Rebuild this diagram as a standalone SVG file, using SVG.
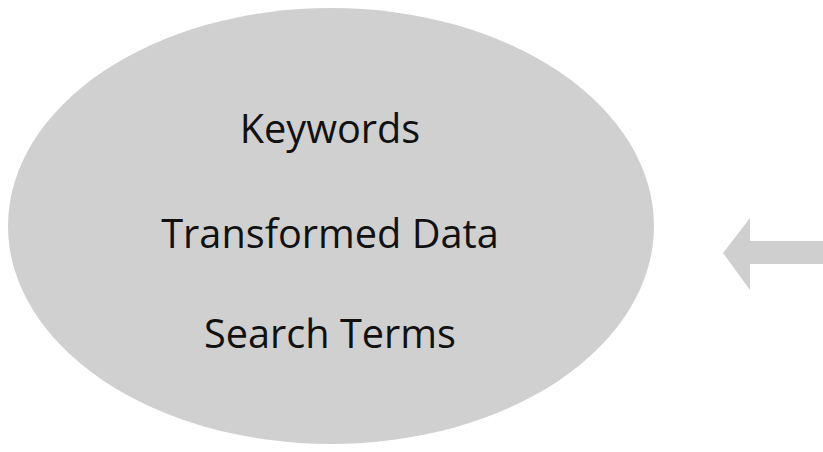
<svg xmlns="http://www.w3.org/2000/svg" width="823" height="452" viewBox="0 0 823 452">
<style>
.lbl{font-family:"Open Sans","Liberation Sans",sans-serif;font-size:39.7px;fill:#111;text-anchor:middle}
</style>
<rect width="823" height="452" fill="#fff"/>
<g id="node-ellipse">
<ellipse cx="331" cy="226" rx="323" ry="218" fill="#d0d0d0"/>
<text class="lbl" x="330" y="143">Keywords</text>
<text class="lbl" x="330" y="248">Transformed Data</text>
<text class="lbl" x="330" y="348">Search Terms</text>
</g>
<g id="connectors">
<polygon points="823,241 750,241 750,218 723,253 750,290 750,264 823,264" fill="#cfcfcf"/>
</g>
</svg>
